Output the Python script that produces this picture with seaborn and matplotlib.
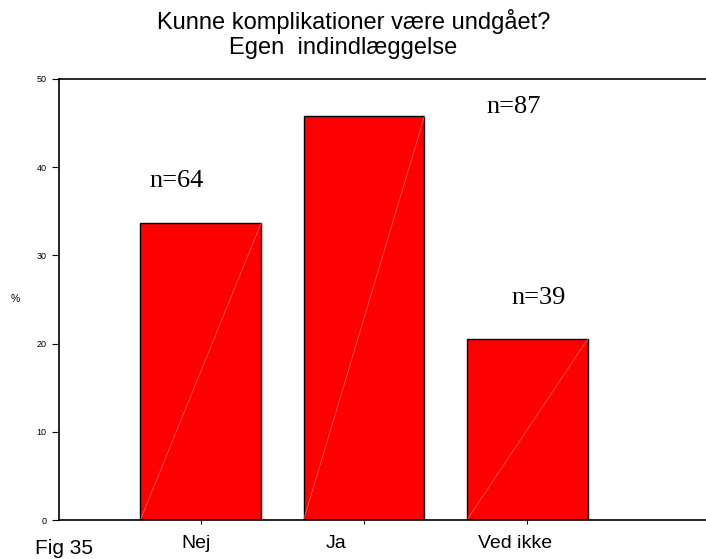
import matplotlib
matplotlib.use("Agg")
import matplotlib.pyplot as plt
import matplotlib.transforms as mtransforms
import seaborn as sns
import pandas as pd

# Answers and number of respondents per answer
categories = ["Nej", "Ja", "Ved ikke"]
counts = [64, 87, 39]
y_ticks = [0, 10, 20, 30, 40, 50]

total = sum(counts)
percent = [c / total * 100 for c in counts]
df = pd.DataFrame({"svar": categories, "pct": percent, "n": counts})

sns.set_style("white")
plt.rcParams["font.family"] = ["Liberation Sans", "DejaVu Sans"]
plt.rcParams["text.color"] = "black"
plt.rcParams["axes.labelcolor"] = "black"
plt.rcParams["xtick.color"] = "black"
plt.rcParams["ytick.color"] = "black"

fig = plt.figure(figsize=(7.06, 5.59), dpi=100)
ax = fig.add_axes([59 / 706, 39 / 559, 1 - 59 / 706, 441 / 559])

sns.barplot(data=df, x="svar", y="pct", color="#ff0000", saturation=1,
            edgecolor="black", linewidth=1.0, width=0.74, ax=ax)

# faint diagonal seam across each bar
for p in ax.patches:
    x0, w, h = p.get_x(), p.get_width(), p.get_height()
    ax.plot([x0, x0 + w], [0, h], color="#ff6a6a", lw=0.5, zorder=p.get_zorder() + 0.1)

ax.set_xlim(-0.868, 3.094)
ax.set_ylim(0, 50)
ax.set_yticks(y_ticks)
ax.set_yticklabels([str(t) for t in y_ticks], fontsize=6.5)
ax.tick_params(axis="y", which="both", left=True, length=5, width=0.8, pad=4, color="black")
ax.tick_params(axis="x", which="both", bottom=True, length=3, width=0.8, pad=8,
               labelsize=14, color="black")
ax.set_xlabel("")
ax.set_ylabel("%", fontsize=7.5, rotation=0, labelpad=15, va="center")

# category labels sit slightly left of their tick marks
label_shift_px = [-5, -28, -12]
for lbl, dx in zip(ax.get_xticklabels(), label_shift_px):
    lbl.set_transform(lbl.get_transform() +
                      mtransforms.ScaledTranslation(dx / 100, 0, fig.dpi_scale_trans))

for side in ["left", "bottom", "top"]:
    ax.spines[side].set_visible(True)
    ax.spines[side].set_color("black")
    ax.spines[side].set_linewidth(1.2)
ax.spines["right"].set_visible(False)

# n-labels above the bars (offsets in pixels from each bar's top centre)
label_offsets = [(-24, 42), (150, 9), (11, 41)]
for i, (p, n) in enumerate(zip(ax.patches, counts)):
    cx = p.get_x() + p.get_width() / 2
    dx, dy = label_offsets[i]
    ax.annotate(f"n={n}", (cx, p.get_height()), xytext=(dx, dy),
                textcoords="offset pixels", ha="center", va="center",
                fontsize=19, family=["Liberation Serif", "DejaVu Serif"])

fig.text(354 / 706, 1 - 22 / 559, "Kunne komplikationer være undgået?",
         ha="center", va="center", fontsize=17)
fig.text(343 / 706, 1 - 48 / 559, "Egen  indindlæggelse",
         ha="center", va="center", fontsize=17)
fig.text(35 / 706, 1 - 549 / 559, "Fig 35", ha="left", va="center", fontsize=15)

fig.savefig("out.png", dpi=100)
